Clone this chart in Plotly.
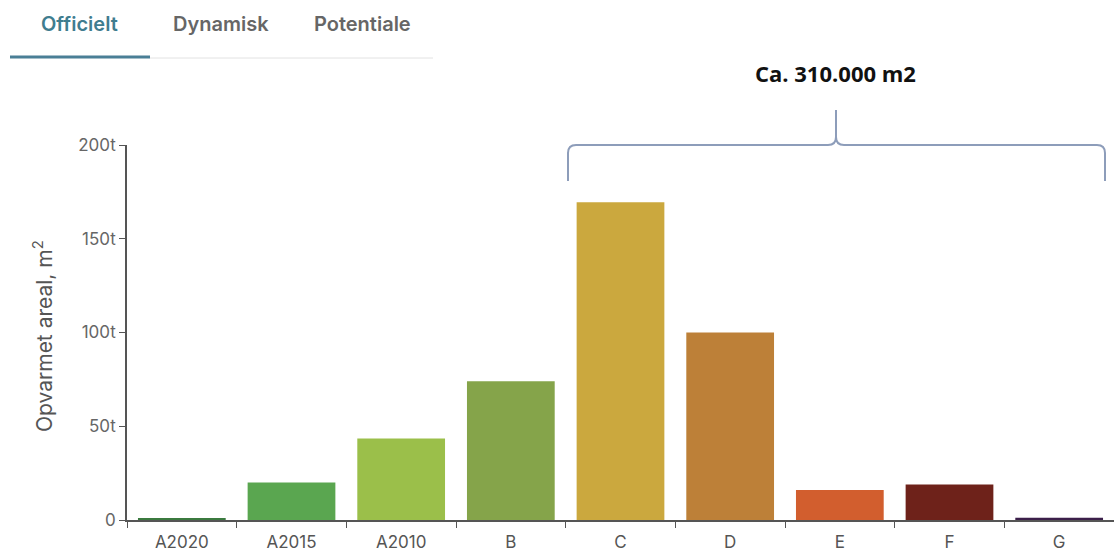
import plotly.graph_objects as go

# Energy label categories and heated floor area (m²)
labels = ["A2020", "A2015", "A2010", "B", "C", "D", "E", "F", "G"]
areas = [1000, 20000, 43500, 74000, 169500, 100000, 16000, 19000, 1200]
bar_colors = ["#3b7a3f", "#5aa650", "#9bbf4a", "#85a44a", "#cba83e",
              "#bd8038", "#d25e2e", "#6e221a", "#3b1f4a"]

y_tick_vals = [0, 50000, 100000, 150000, 200000]
y_tick_text = ["0", "50t", "100t", "150t", "200t"]

tabs = ["Officielt", "Dynamisk", "Potentiale"]
total_note = "Ca. 310.000 m2"

W, H = 1114, 552
ML, MR, MT, MB = 127, 0, 145, 32
PW, PH = W - ML - MR, H - MT - MB


def px(x):
    return (x - ML) / PW


def py(y):
    return (H - MB - y) / PH


fig = go.Figure(go.Bar(
    x=labels, y=areas, marker=dict(color=bar_colors, line=dict(width=0)),
    width=0.8, hoverinfo="x+y",
))

# Tab strip above the chart
tab_x = [79, 221, 362]
tab_col = ["#3f7d8f", "#666666", "#666666"]
annotations = []
for t, x, c in zip(tabs, tab_x, tab_col):
    annotations.append(dict(
        text=t, x=px(x), y=py(24), xref="paper", yref="paper",
        xanchor="center", yanchor="middle", showarrow=False,
        font=dict(family="Inter", size=20, color=c, weight=600)))

annotations.append(dict(
    text=f"<b>{total_note}</b>", x=px(835), y=py(73), xref="paper", yref="paper",
    xanchor="center", yanchor="middle", showarrow=False,
    font=dict(family="Open Sans", size=22, color="#111111")))

# Axis title drawn as rotated text
annotations.append(dict(
    text="Opvarmet areal, m<sup>2</sup>", x=px(43), y=py(336),
    xref="paper", yref="paper", xanchor="center", yanchor="middle",
    textangle=-90, showarrow=False,
    font=dict(family="Inter", size=21, color="#555555")))

shapes = [
    dict(type="line", xref="paper", yref="paper", x0=px(150), x1=px(433),
         y0=py(58), y1=py(58), line=dict(color="#e2e2e2", width=1)),
    dict(type="line", xref="paper", yref="paper", x0=px(10), x1=px(150),
         y0=py(57), y1=py(57), line=dict(color="#4a7f96", width=3)),
]

# Curly brace over categories C..G
bx0, bx1, bc = 568, 1105, 836
by, btop, bbot = 145, 110, 181
r = 8
path = (
    f"M {px(bx0)},{py(bbot)} L {px(bx0)},{py(by + r)} "
    f"Q {px(bx0)},{py(by)} {px(bx0 + r)},{py(by)} "
    f"L {px(bc - r)},{py(by)} Q {px(bc)},{py(by)} {px(bc)},{py(by - r)} "
    f"L {px(bc)},{py(btop)} L {px(bc)},{py(by - r)} "
    f"Q {px(bc)},{py(by)} {px(bc + r)},{py(by)} "
    f"L {px(bx1 - r)},{py(by)} Q {px(bx1)},{py(by)} {px(bx1)},{py(by + r)} "
    f"L {px(bx1)},{py(bbot)}"
)
shapes.append(dict(type="path", xref="paper", yref="paper", path=path,
                   line=dict(color="#8d9dba", width=2)))

fig.update_layout(
    width=W, height=H,
    margin=dict(l=ML, r=MR, t=MT, b=MB),
    paper_bgcolor="white", plot_bgcolor="white",
    showlegend=False, bargap=0.2,
    font=dict(family="Inter", color="#555555", size=14),
    annotations=annotations, shapes=shapes,
    xaxis=dict(
        type="category", range=[-0.5, 8.5], showgrid=False, zeroline=False,
        showline=True, linecolor="#555555", linewidth=1.5,
        ticks="outside", tickson="boundaries", ticklen=6, tickcolor="#555555",
        ticklabelstandoff=6,
        tickfont=dict(size=17, color="#555555"), fixedrange=True,
    ),
    yaxis=dict(
        range=[0, 200000], showgrid=False, zeroline=False,
        showline=True, linecolor="#555555", linewidth=1.5,
        ticks="outside", ticklen=6, tickcolor="#555555",
        tickvals=y_tick_vals, ticktext=y_tick_text,
        tickfont=dict(size=17, color="#666666"),
        fixedrange=True,
    ),
)

fig.write_html("out.html")
